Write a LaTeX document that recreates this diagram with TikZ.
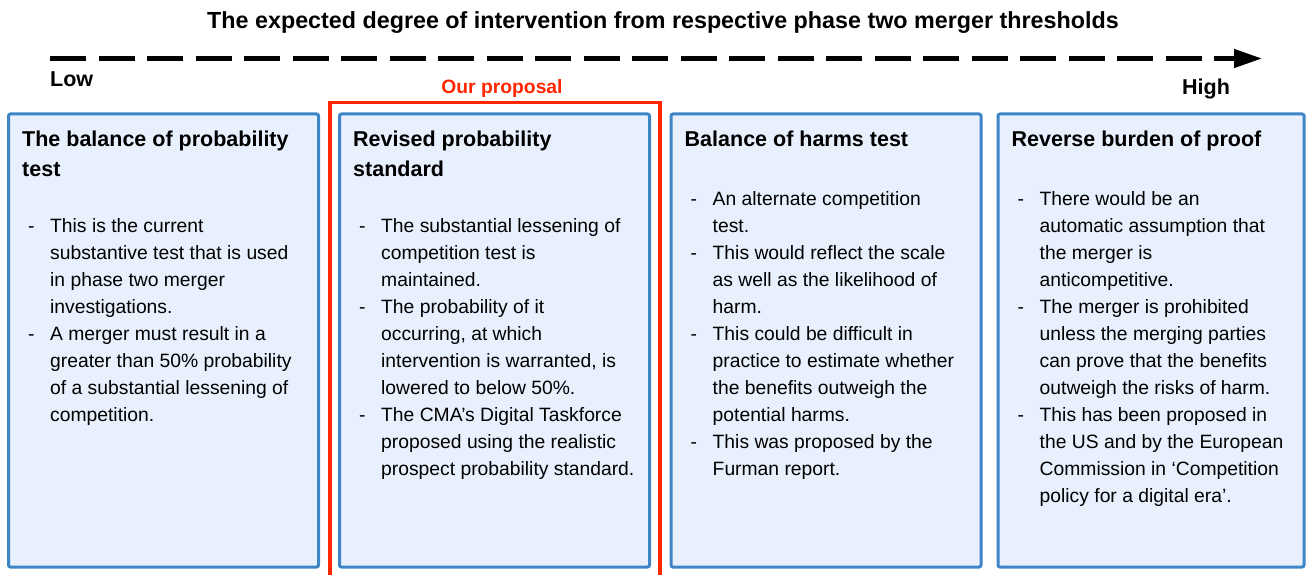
\documentclass[tikz,border=0pt]{standalone}
\usepackage{fontspec}
\setmainfont{Liberation Sans}
\usepackage{tikz}
\usetikzlibrary{positioning, arrows.meta}
\definecolor{boxblue}{RGB}{61,133,198}
\definecolor{boxfill}{RGB}{232,240,254}
\definecolor{propred}{RGB}{255,38,0}
\newcommand\headfont{\fontsize{21.5}{30}\selectfont\bfseries}
\newcommand\titlefont{\fontsize{23.3}{30}\selectfont\bfseries}
\newcommand\bodyfont{\fontsize{19.3}{27}\selectfont}
\newcommand\dashlist[1]{\begin{tabular}{@{}p{22pt}@{}l@{}}#1\end{tabular}}
\newcommand\headlines[1]{\begin{tabular}{@{}l@{}}#1\end{tabular}}
\tikzset{
  % --- option boxes ---
  optbox/.style={draw=boxblue, fill=boxfill, line width=3pt, rounded corners=2pt,
    minimum width=310pt, minimum height=453pt, inner sep=0pt},
  opthead/.style={anchor=north west, inner sep=0pt, font=\headfont},
  optbody/.style={anchor=north west, inner sep=0pt, font=\bodyfont},
  % --- scale arrow and labels ---
  scalelbl/.style={inner sep=0pt, font=\headfont},
  scalearrow/.style={line width=4.5pt, dash pattern=on 36pt off 12.5pt,
    -{Triangle[length=28pt, width=18pt]}},
  propframe/.style={draw=propred, line width=3.5pt},
}

\begin{document}
\begin{tikzpicture}[x=1pt, y=-1pt]
    \useasboundingbox (0,0) rectangle (1308,575);
    % ---- Scale ----
    \node[scalelbl, anchor=base, font=\titlefont] (title) at (663,28.5)
      {The expected degree of intervention from respective phase two merger thresholds};
    \coordinate (lo) at (50,58.5);
    \coordinate (hi) at (1262,58.5);
    \draw[scalearrow] (lo) -- (hi);
    \node[scalelbl, anchor=base west] (low) at (50,87) {Low};
    \node[scalelbl, anchor=base west] (high) at (1182,95) {High};
    % ---- Our proposal frame ----
    \draw[propframe] (330,590) -- (330,102.5) -- (660,102.5) -- (660,590);
    \node[scalelbl, anchor=base, text=propred, font=\bodyfont\bfseries] (prop) at (502,94) {Our proposal};
    % ---- Boxes ----
    \node[optbox] (b1) at (163.5,340.5) {};
    \node[optbox, right=18pt of b1] (b2) {};
    \node[optbox, right=18.5pt of b2] (b3) {};
    \node[optbox, right=14pt of b3, minimum width=306pt] (b4) {};
    % ---- Headings ----
    \node[opthead, below right=13pt and 15pt of b1.north west] (h1) {\headlines{The balance of probability\\test}};
    \node[opthead, below right=13pt and 15pt of b2.north west] (h2) {\headlines{Revised probability\\standard}};
    \node[opthead, below right=13pt and 15pt of b3.north west] (h3) {\headlines{Balance of harms test}};
    \node[opthead, below right=13pt and 15pt of b4.north west] (h4) {\headlines{Reverse burden of proof}};
    % ---- Bullet texts ----
    \node[optbody, below right=27pt and 6pt of h1.south west] (t1) {\dashlist{
      - & This is the current\\ & substantive test that is used\\ & in phase two merger\\ & investigations.\\
      - & A merger must result in a\\ & greater than 50\% probability\\ & of a substantial lessening of\\ & competition.}};
    \node[optbody, below right=27pt and 6pt of h2.south west] (t2) {\dashlist{
      - & The substantial lessening of\\ & competition test is\\ & maintained.\\
      - & The probability of it\\ & occurring, at which\\ & intervention is warranted, is\\ & lowered to below 50\%.\\
      - & The CMA’s Digital Taskforce\\ & proposed using the realistic\\ & prospect probability standard.}};
    \node[optbody, below right=30pt and 6pt of h3.south west] (t3) {\dashlist{
      - & An alternate competition\\ & test.\\
      - & This would reflect the scale\\ & as well as the likelihood of\\ & harm.\\
      - & This could be difficult in\\ & practice to estimate whether\\ & the benefits outweigh the\\ & potential harms.\\
      - & This was proposed by the\\ & Furman report.}};
    \node[optbody, below right=30pt and 6pt of h4.south west] (t4) {\dashlist{
      - & There would be an\\ & automatic assumption that\\ & the merger is\\ & anticompetitive.\\
      - & The merger is prohibited\\ & unless the merging parties\\ & can prove that the benefits\\ & outweigh the risks of harm.\\
      - & This has been proposed in\\ & the US and by the European\\ & Commission in ‘Competition\\ & policy for a digital era’.}};
  \end{tikzpicture}
\end{document}
